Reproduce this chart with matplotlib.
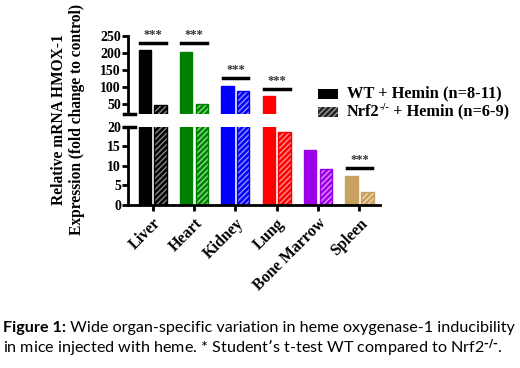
import numpy as np
import matplotlib.pyplot as plt
from matplotlib.patches import Rectangle

# organs and HMOX-1 fold change values
organs = ['Liver', 'Heart', 'Kidney', 'Lung', 'Bone Marrow', 'Spleen']
wt_values = [210, 203, 103, 74, 14.1, 7.4]
ko_values = [47, 50, 88, 18.7, 9.2, 3.2]
colors = ['#000000', '#008000', '#0000ff', '#ff0000', '#9900e6', '#c8a060']
hatch_colors = ['#888888', '#80e080', '#9090ff', '#ff9090', '#e090ff', '#f0d8b0']

# significance marks: organ index and line height
sig_idx = [0, 1, 2, 3, 5]
sig_y = [230, 230, 126, 94, 9.5]

plt.rcParams['font.family'] = ['Liberation Serif', 'DejaVu Serif']
plt.rcParams['font.weight'] = 'bold'
plt.rcParams['mathtext.default'] = 'regular'

fig = plt.figure(figsize=(5.2, 3.68), dpi=100)
ax_top = fig.add_axes([0.246, 0.690, 0.485, 0.212])
ax_bot = fig.add_axes([0.246, 0.443, 0.485, 0.212])

x = np.arange(len(organs))
w = 0.30
off = 0.19

for ax in (ax_top, ax_bot):
    for i in range(len(organs)):
        ax.bar(x[i] - off, wt_values[i], w, color=colors[i], edgecolor=colors[i], linewidth=1)
        ax.bar(x[i] + off, ko_values[i], w, color=colors[i], edgecolor=hatch_colors[i],
               hatch='//////', linewidth=0)
        ax.bar(x[i] + off, ko_values[i], w, fill=False, edgecolor=colors[i], linewidth=1)
    ax.set_xlim(-0.6, 5.5)
    for s in ['top', 'right']:
        ax.spines[s].set_visible(False)
    ax.spines['left'].set_linewidth(2)
    ax.spines['bottom'].set_linewidth(2)
    ax.tick_params(axis='y', width=2, length=4, labelsize=10, pad=1)

ax_top.set_ylim(20, 250)
ax_top.set_yticks([50, 100, 150, 200, 250])
ax_top.spines['bottom'].set_visible(False)
ax_top.set_xticks([])

ax_bot.set_ylim(0, 20)
ax_bot.set_yticks([0, 5, 10, 15, 20])
ax_bot.set_xticks(x)
ax_bot.tick_params(axis='x', width=2, length=4)
ax_bot.set_xticklabels(organs, rotation=45, ha='right', va='top',
                       rotation_mode='anchor', fontsize=11.5)

# break marks
ax_top.plot([-0.015, 0.03], [0, 0], transform=ax_top.transAxes, color='black', lw=2.5, clip_on=False)
ax_bot.plot([-0.015, 0.03], [1, 1], transform=ax_bot.transAxes, color='black', lw=2.5, clip_on=False)

# significance bars
for i, yv in zip(sig_idx, sig_y):
    ax = ax_top if yv > 20 else ax_bot
    ax.plot([x[i] - off - 0.12, x[i] + off + 0.12], [yv, yv], color='black', lw=2.5, clip_on=False)
    ax.annotate('***', (x[i], yv), xytext=(0, 1.5), textcoords='offset points',
                ha='center', va='bottom', fontsize=9, color='#333333',
                annotation_clip=False)

fig.text(0.131, 0.675, 'Relative mRNA HMOX-1\nExpression (fold change to control)',
         rotation=90, ha='center', va='center', fontsize=11.2, linespacing=1.2)

# legend, drawn by hand so the superscript sits right
fs = 11.8
fig.add_artist(Rectangle((0.6115, 0.731), 0.0385, 0.0272, transform=fig.transFigure,
                         facecolor='black', edgecolor='black', lw=0))
fig.add_artist(Rectangle((0.6115, 0.682), 0.0385, 0.0272, transform=fig.transFigure,
                         facecolor='#222222', edgecolor='#999999', hatch='//////', lw=0))
fig.text(0.667, 0.745, 'WT + Hemin (n=8-11)', fontsize=fs, va='center')
t_a = fig.text(0.667, 0.696, 'Nrf2', fontsize=fs, va='center')
t_sup = plt.annotate('-/-', xy=(1, 0.5), xycoords=t_a, va='bottom', fontsize=7.5)
plt.annotate(' + Hemin (n=6-9)', xy=(1, 0), xycoords=(t_sup, t_a), va='bottom', fontsize=fs)

# caption
cap_font = ['Lato', 'DejaVu Sans']
cs = 11.6
t1 = fig.text(0.006, 0.098, 'Figure 1:', fontsize=cs, family=cap_font, weight='bold', va='baseline')
plt.annotate(' Wide organ-specific variation in heme oxygenase-1 inducibility',
             xy=(1, 0), xycoords=t1, va='bottom', fontsize=cs,
             family=cap_font, weight='normal')
fig.text(0.006, 0.041, 'in mice injected with heme. * Student\u2019s t-test WT compared to Nrf2$^{\\text{-/-}}$.',
         fontsize=cs, family=cap_font, weight='normal', va='baseline')

fig.savefig('out.png', dpi=100)
